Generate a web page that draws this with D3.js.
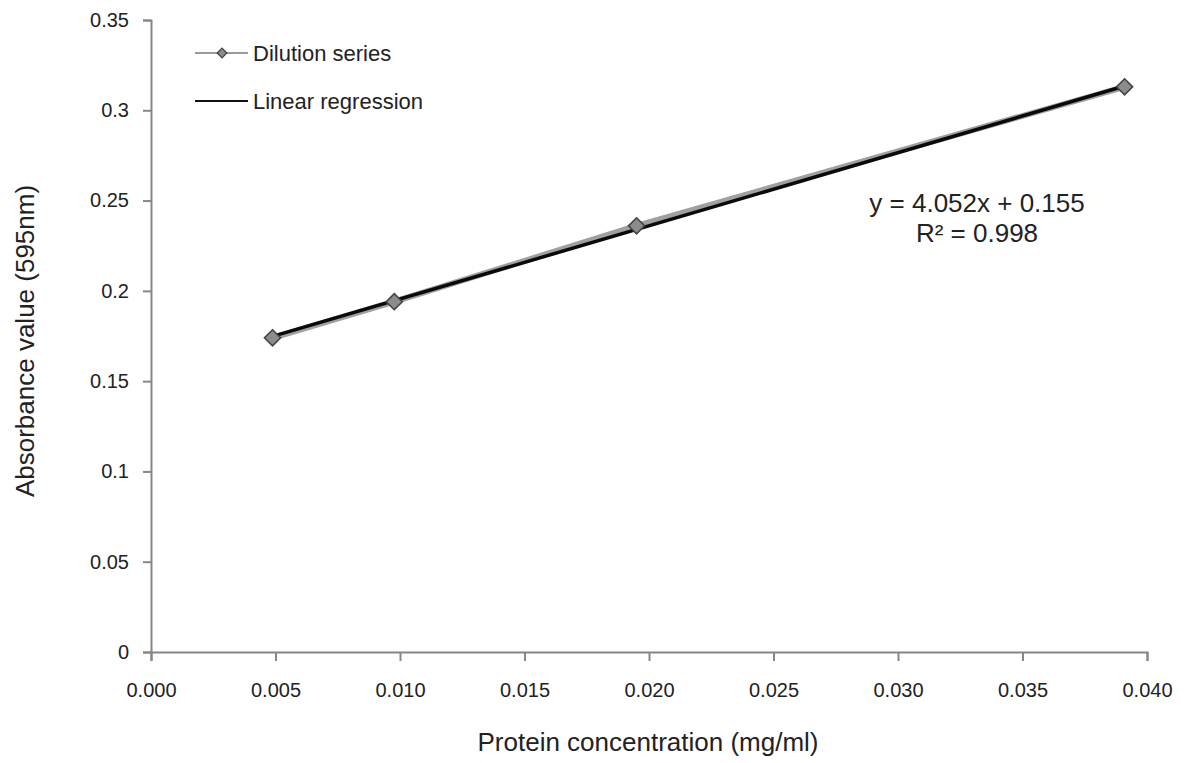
<!DOCTYPE html>
<html>
<head>
<meta charset="utf-8">
<script src="https://cdn.jsdelivr.net/npm/d3@7"></script>
<style>
  body { margin: 0; background: #fff; }
  svg text { font-family: "Liberation Sans", Arial, sans-serif; fill: #222; }
</style>
</head>
<body>
<div id="chart"></div>
<script>
// data
const concentrations = [0.00488, 0.00977, 0.0195, 0.0391];
const absorbance = [0.174, 0.194, 0.236, 0.313];
const xTicks = [0, 0.005, 0.01, 0.015, 0.02, 0.025, 0.03, 0.035, 0.04];
const yTicks = [0, 0.05, 0.1, 0.15, 0.2, 0.25, 0.3, 0.35];
const slope = 4.052;
const intercept = 0.155;
const rSquared = 0.998;

const W = 1185, H = 763;
const margin = { top: 20, right: 38, bottom: 111, left: 151 };
const width = W - margin.left - margin.right;
const height = H - margin.top - margin.bottom;

const svg = d3.select("#chart").append("svg")
    .attr("width", W)
    .attr("height", H);
const g = svg.append("g")
    .attr("transform", `translate(${margin.left},${margin.top})`);

const x = d3.scaleLinear().domain([0, 0.04]).range([0, width]);
const y = d3.scaleLinear().domain([0, 0.35]).range([height, 0]);

// axes
const xAxis = g.append("g")
    .attr("transform", `translate(0,${height})`)
    .call(d3.axisBottom(x).tickValues(xTicks).tickFormat(d3.format(".3f")).tickSizeOuter(0).tickSize(9).tickPadding(22));
const yAxis = g.append("g")
    .call(d3.axisLeft(y).tickValues(yTicks).tickFormat(d => d === 0 ? "0" : String(+d.toFixed(2))).tickSizeOuter(0).tickSize(8).tickPadding(14));
[xAxis, yAxis].forEach(a => {
    a.selectAll("path, line").attr("stroke", "#868686").attr("stroke-width", 2);
    a.selectAll("text").style("font-size", "20px");
});

// axis titles
svg.append("text")
    .attr("x", 648)
    .attr("y", 751)
    .attr("text-anchor", "middle")
    .style("font-size", "26px")
    .text("Protein concentration (mg/ml)");
svg.append("text")
    .attr("transform", "translate(34,341) rotate(-90)")
    .attr("text-anchor", "middle")
    .style("font-size", "26px")
    .text("Absorbance value (595nm)");

const points = concentrations.map((c, i) => ({ x: c, y: absorbance[i] }));

// dilution series line
const line = d3.line().x(d => x(d.x)).y(d => y(d.y));
g.append("path")
    .datum(points)
    .attr("fill", "none")
    .attr("stroke", "#a0a0a0")
    .attr("stroke-width", 6)
    .attr("d", line);

// regression line
const xMin = d3.min(concentrations), xMax = d3.max(concentrations);
const regPts = [xMin, xMax].map(v => ({ x: v, y: slope * v + intercept }));
g.append("path")
    .datum(regPts)
    .attr("fill", "none")
    .attr("stroke", "#0a0a0a")
    .attr("stroke-width", 3.5)
    .attr("d", line);

// markers
const diamond = d3.symbol().type(d3.symbolDiamond2).size(165);
g.selectAll(".pt")
    .data(points)
    .enter().append("path")
    .attr("class", "pt")
    .attr("transform", d => `translate(${x(d.x)},${y(d.y)})`)
    .attr("d", diamond)
    .attr("fill", "#8c8c8c")
    .attr("stroke", "#444")
    .attr("stroke-width", 1.6);

// legend
const legend = svg.append("g").attr("transform", "translate(195,53)");
legend.append("line").attr("x1", 0).attr("x2", 53).attr("y1", 0).attr("y2", 0)
    .attr("stroke", "#9a9a9a").attr("stroke-width", 2);
legend.append("path").attr("transform", "translate(27,0)")
    .attr("d", d3.symbol().type(d3.symbolDiamond2).size(60))
    .attr("fill", "#8c8c8c").attr("stroke", "#444").attr("stroke-width", 1.3);
legend.append("text").attr("x", 58).attr("y", 8).style("font-size", "22px").text("Dilution series");
legend.append("line").attr("x1", 0).attr("x2", 53).attr("y1", 48).attr("y2", 48)
    .attr("stroke", "#111").attr("stroke-width", 2);
legend.append("text").attr("x", 58).attr("y", 56).style("font-size", "22px").text("Linear regression");

// equation
const eq = svg.append("g").attr("transform", "translate(977,0)");
eq.append("text").attr("y", 212).attr("text-anchor", "middle").style("font-size", "26px")
    .text(`y = ${slope}x  + ${intercept}`);
eq.append("text").attr("y", 242).attr("text-anchor", "middle").style("font-size", "26px")
    .text(`R² = ${rSquared}`);
</script>
</body>
</html>
